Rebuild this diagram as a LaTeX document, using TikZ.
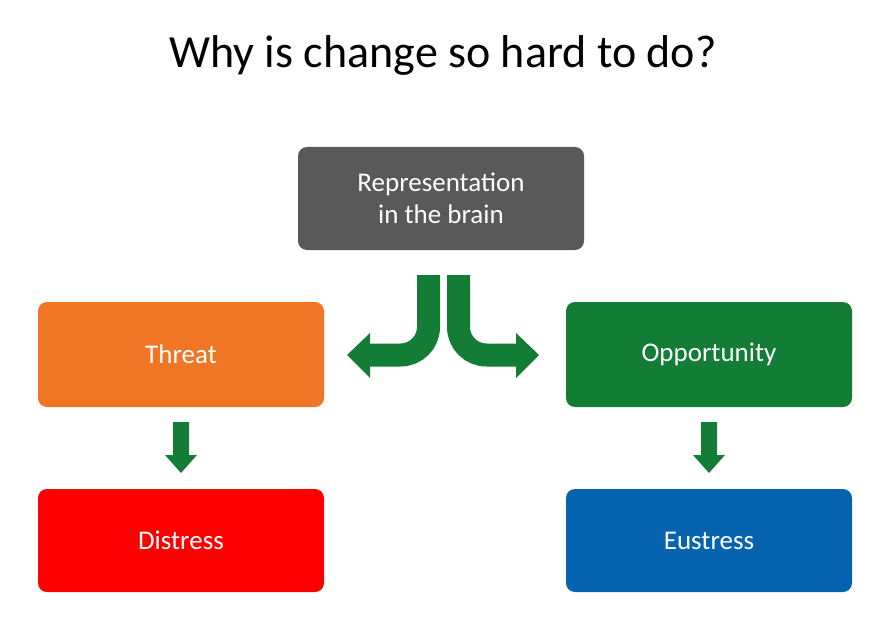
\documentclass[tikz,border=0pt]{standalone}
\usepackage{fontspec}
\setmainfont{Carlito}
\definecolor{ag}{HTML}{137D36}
\definecolor{cg}{HTML}{595959}\definecolor{co}{HTML}{F07524}\definecolor{cr}{HTML}{FF0000}\definecolor{cb}{HTML}{0563AF}
\begin{document}
\begin{tikzpicture}[x=1pt,y=-1pt,
 box/.style={rounded corners=9pt,text=white,font=\fontsize{27}{32}\selectfont,align=center}]
\useasboundingbox (0,0) rectangle (886,623);
\node[font=\fontsize{46}{52}\selectfont] (title) at (443,55) {Why is change so hard to do?};
\node[box,fill=cg,minimum width=286pt,minimum height=103pt] (rep) at (441,198.5) {Representation\\in the brain};
\node[box,fill=co,minimum width=286pt,minimum height=105pt] (thr) at (181,354.5) {Threat};
\node[box,fill=ag,minimum width=286pt,minimum height=105pt] (opp) at (709,354.5) {Opportunity};
\node[box,fill=cr,minimum width=286pt,minimum height=103pt] (dis) at (181,540.5) {Distress};
\node[box,fill=cb,minimum width=286pt,minimum height=103pt] (eus) at (709,540.5) {Eustress};
% bent arrows
\draw[ag,line width=23pt,rounded corners=28pt] (428.5,275) -- (428.5,355) -- (368,355);
\fill[ag] (370,333) -- (347,355) -- (370,378) -- cycle;
\draw[ag,line width=23pt,rounded corners=28pt] (458.5,275) -- (458.5,355) -- (518,355);
\fill[ag] (516,333) -- (539,355) -- (516,378) -- cycle;
% down arrows
\foreach \c in {181,709}{
 \fill[ag] (\c-8,422) -- (\c+8,422) -- (\c+8,455) -- (\c+16,455) -- (\c,473) -- (\c-16,455) -- (\c-8,455) -- cycle;}
\end{tikzpicture}
\end{document}
